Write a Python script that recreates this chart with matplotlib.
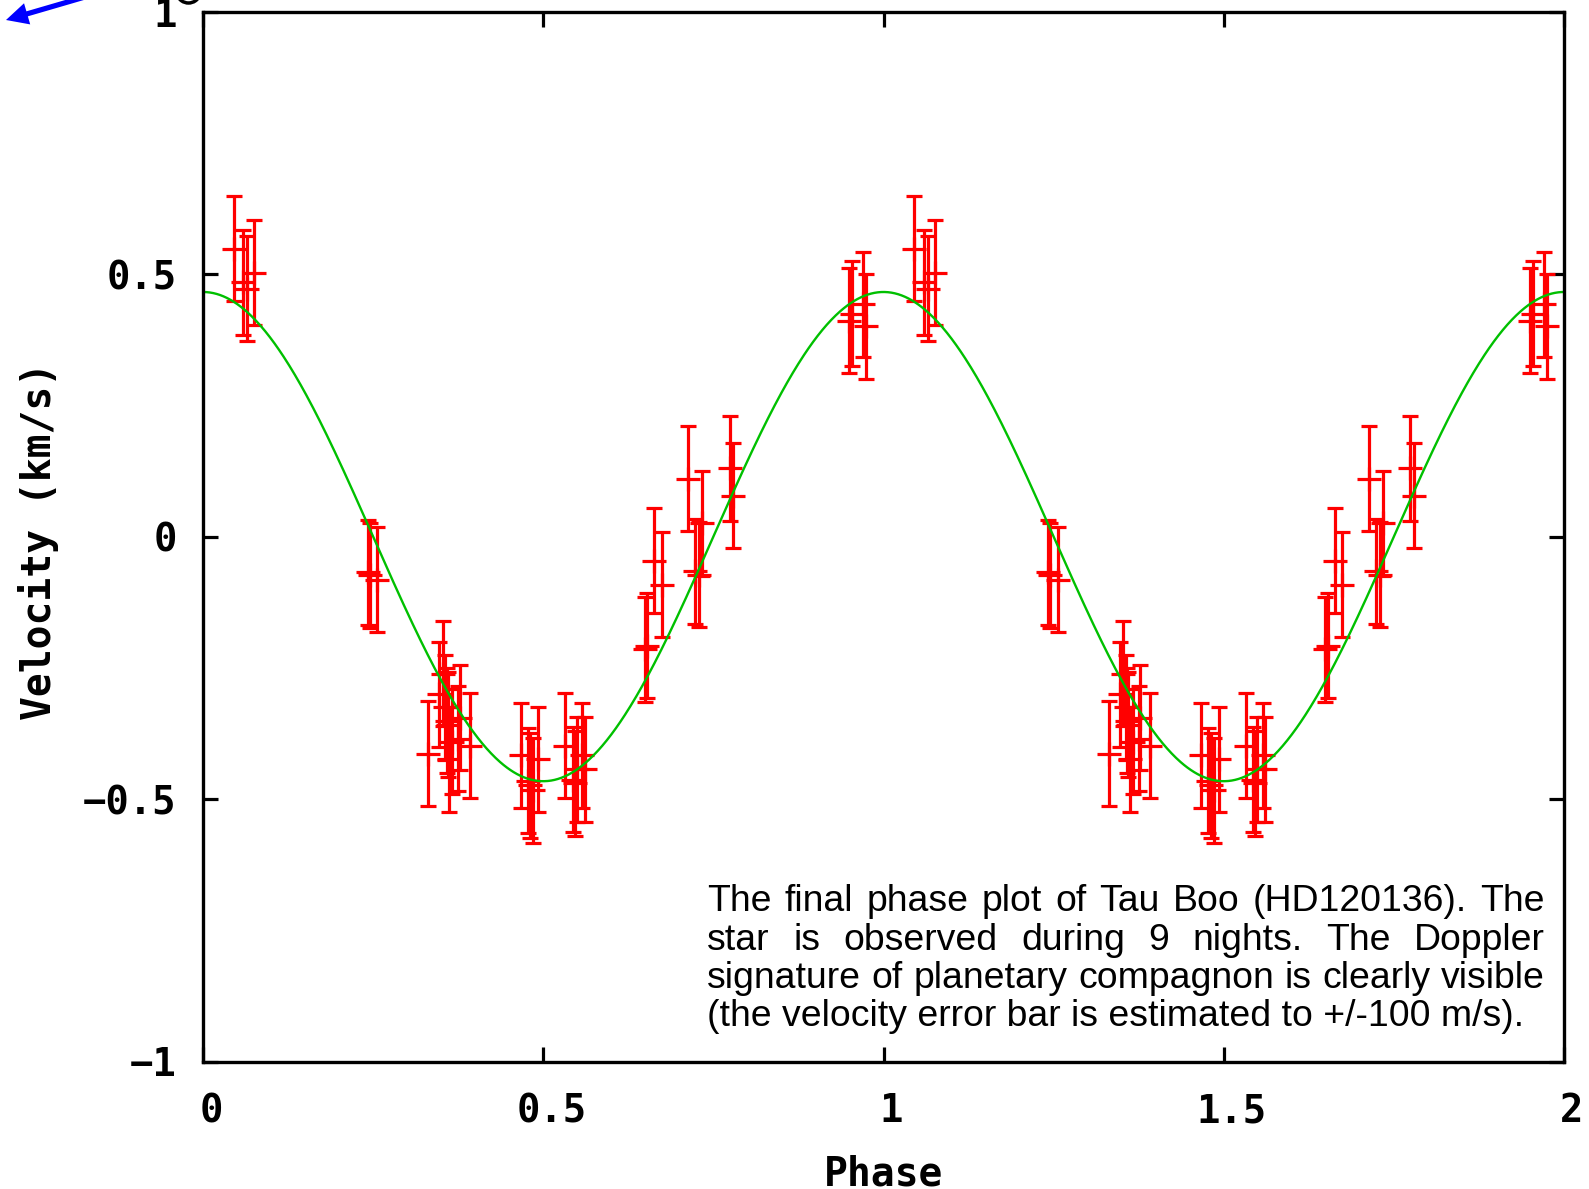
import numpy as np
import matplotlib
matplotlib.use('Agg')
import matplotlib.pyplot as plt
from matplotlib.transforms import ScaledTranslation, IdentityTransform
from matplotlib.patches import Polygon, Arc

# ---------------- data (one orbital period, folded) ----------------
phase = [0.045, 0.059, 0.065, 0.075,
         0.242, 0.245, 0.256,
         0.331, 0.347, 0.352, 0.356, 0.358, 0.360, 0.362, 0.366, 0.375, 0.377, 0.392,
         0.467, 0.477, 0.481, 0.485, 0.493,
         0.532, 0.543, 0.546, 0.549, 0.557, 0.561,
         0.649, 0.653, 0.663, 0.674,
         0.713, 0.723, 0.729, 0.734,
         0.774, 0.779,
         0.950, 0.954, 0.970, 0.975]
velocity = [0.548, 0.485, 0.472, 0.503,
            -0.068, -0.074, -0.082,
            -0.414, -0.300, -0.261, -0.325, -0.351, -0.358, -0.424, -0.391, -0.385, -0.345, -0.398,
            -0.417, -0.465, -0.474, -0.483, -0.424,
            -0.398, -0.463, -0.470, -0.443, -0.417, -0.443,
            -0.215, -0.208, -0.046, -0.092,
            0.110, -0.066, -0.073, 0.025,
            0.130, 0.078,
            0.411, 0.425, 0.443, 0.401]
velocity_error = 0.1          # km/s
fit_amplitude = 0.466         # km/s
fit_period = 1.0
fit_phase_of_max = 0.0

x_ticks = [0, 0.5, 1, 1.5, 2]
x_tick_labels = ['0', '0.5', '1', '1.5', '2']
y_ticks = [-1, -0.5, 0, 0.5, 1]
y_tick_labels = ['\u22121', '\u22120.5', '0', '0.5', '1']
x_label = 'Phase'
y_label = 'Velocity (km/s)'
note_lines = ['The final phase plot of Tau Boo (HD120136). The',
              'star is observed during 9 nights. The Doppler',
              'signature of planetary compagnon is clearly visible',
              '(the velocity error bar is estimated to +/-100 m/s).']

# ---------------- figure ----------------
W, H = 1589, 1189
fig = plt.figure(figsize=(W / 100, H / 100), dpi=100)
L, R, T, B = 203.0, 1564.0, 11.7, 1061.5
ax = fig.add_axes([L / W, 1 - B / H, (R - L) / W, (B - T) / H])

ph = np.asarray(phase)
v = np.asarray(velocity)
xs = np.concatenate([ph, ph + 1.0])
vs = np.concatenate([v, v])

ax.errorbar(xs, vs, yerr=velocity_error, fmt='+', color='#ff0000', ms=17, mew=2.3,
            elinewidth=2.3, capsize=6, capthick=2.3, zorder=3)

xx = np.linspace(0, 2, 1201)
ax.plot(xx, fit_amplitude * np.cos(2 * np.pi * (xx - fit_phase_of_max) / fit_period),
        color='#00c000', lw=1.7, zorder=4)

ax.set_xlim(0, 2)
ax.set_ylim(-1, 1)
for s in ax.spines.values():
    s.set_linewidth(2.4)
    s.set_zorder(5)
ax.set_xticks(x_ticks)
ax.set_xticklabels(x_tick_labels)
ax.set_yticks(y_ticks)
ax.set_yticklabels(y_tick_labels)
ax.tick_params(direction='in', length=10.5, width=2.3, top=True, right=True,
               labelsize=28, colors='black')
ax.tick_params(axis='x', pad=22)
ax.tick_params(axis='y', pad=19)
for lab in ax.get_xticklabels() + ax.get_yticklabels():
    lab.set_fontfamily('DejaVu Sans Mono')
    lab.set_fontweight('bold')
for lab in ax.get_xticklabels():
    lab.set_transform(lab.get_transform() + ScaledTranslation(8 / 100, 0, fig.dpi_scale_trans))

mono = dict(family='DejaVu Sans Mono', weight='bold', fontsize=28.5, color='black')
fig.text(39 / W, 1 - 541 / H, y_label, rotation=90, ha='center', va='center', **mono)
fig.text(883.5 / W, 1 - 1154 / H, x_label, ha='center', va='top', **mono)

# ---------------- justified note ----------------
fig.canvas.draw()
rend = fig.canvas.get_renderer()
note_font = 'Liberation Sans'


def width_px(s, fs):
    t = fig.text(0, 0, s, fontsize=fs, family=note_font)
    w = t.get_window_extent(rend).width
    t.remove()
    return w


fs = 20 * 815.0 / width_px(note_lines[-1], 20)
x_left, x_right = 707.3, 1544.5
baselines = [911, 949.5, 988, 1026.5]
for i, line in enumerate(note_lines):
    y = 1 - baselines[i] / H
    if i == len(note_lines) - 1:
        fig.text(x_left / W, y, line, fontsize=fs, family=note_font, va='baseline', ha='left')
        continue
    words = line.split(' ')
    ws = [width_px(w_, fs) for w_ in words]
    gap = (x_right - x_left - sum(ws)) / (len(words) - 1)
    x = x_left
    for w_, wd in zip(words, ws):
        fig.text(x / W, y, w_, fontsize=fs, family=note_font, va='baseline', ha='left')
        x += wd + gap

# ---------------- cropped decorations from the source page ----------------
tip = np.array([6.0, H - 20.0])
d = np.array([72.0, 21.0]); d /= np.linalg.norm(d)
n = np.array([-d[1], d[0]])
base = tip + 22 * d
end = tip + 140 * d
pts = [tip, base + 11 * n, base + 2.6 * n, end + 2.6 * n, end - 2.6 * n, base - 2.6 * n, base - 11 * n]
fig.add_artist(Polygon(pts, closed=True, facecolor='#0000ff', edgecolor='none',
                       transform=IdentityTransform()))
fig.add_artist(Arc((188.5, H + 9), 24, 24, theta1=200, theta2=340, color='black', lw=2.5,
                   transform=IdentityTransform()))

fig.savefig('out.png', dpi=100)
